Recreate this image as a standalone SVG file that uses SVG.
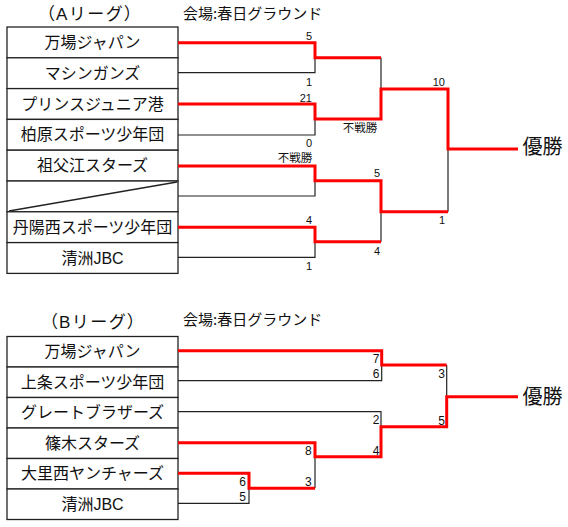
<svg xmlns="http://www.w3.org/2000/svg" width="568" height="527" viewBox="0 0 568 527">
<style>
.cell{fill:#fff;stroke:#222;stroke-width:1.3}
.tn{font-family:"Liberation Sans","Noto Sans CJK JP",sans-serif;font-size:16px;fill:#111;text-anchor:middle}
.ttl{font-family:"Noto Sans CJK JP",sans-serif;font-size:17px;fill:#111;letter-spacing:1.5px}
.ttl .p{font-feature-settings:"palt"}
.ttl .lat{font-family:"Liberation Sans",sans-serif}
.ven{font-family:"Noto Sans CJK JP",sans-serif;font-size:15px;fill:#111}
.sa{font-family:"Liberation Sans","Noto Sans CJK JP",sans-serif;font-size:11px;fill:#111;text-anchor:end}
.sb{font-family:"Liberation Sans","Noto Sans CJK JP",sans-serif;font-size:12px;fill:#111;text-anchor:end}
.fu{font-family:"Noto Sans CJK JP",sans-serif;font-size:11.5px;fill:#111;text-anchor:middle}
.win{font-family:"Noto Sans CJK JP",sans-serif;font-size:20px;fill:#111}
.bk{fill:none;stroke:#222;stroke-width:1.2}
.rd{fill:none;stroke:#ff0000;stroke-width:3;stroke-linejoin:miter}
</style>
<rect width="568" height="527" fill="#fff"/>

<!-- A league header -->
<g id="titleA">
<text class="ttl" x="46" y="20"><tspan class="p">（</tspan><tspan class="lat">A</tspan>リーグ<tspan class="p">）</tspan></text>
<text class="ven" x="183" y="19">会場:春日グラウンド</text>
</g>

<!-- A league teams -->
<g id="A1"><rect class="cell" x="7" y="27" width="171" height="30.8"/><text class="tn" x="92.5" y="48">万場ジャパン</text></g>
<g id="A2"><rect class="cell" x="7" y="57.8" width="171" height="30.8"/><text class="tn" x="92.5" y="78.8">マシンガンズ</text></g>
<g id="A3"><rect class="cell" x="7" y="88.6" width="171" height="30.8"/><text class="tn" x="92.5" y="109.6">プリンスジュニア港</text></g>
<g id="A4"><rect class="cell" x="7" y="119.4" width="171" height="30.8"/><text class="tn" x="92.5" y="140.4">柏原スポーツ少年団</text></g>
<g id="A5"><rect class="cell" x="7" y="150.2" width="171" height="30.8"/><text class="tn" x="92.5" y="171.2">祖父江スターズ</text></g>
<g id="A6"><rect class="cell" x="7" y="181" width="171" height="30.8"/><line x1="9" y1="211" x2="177" y2="182" stroke="#222" stroke-width="1.3"/></g>
<g id="A7"><rect class="cell" x="7" y="211.8" width="171" height="30.8"/><text class="tn" x="92.5" y="232.8">丹陽西スポーツ少年団</text></g>
<g id="A8"><rect class="cell" x="7" y="242.6" width="171" height="30.8"/><text class="tn" x="92.5" y="263.6">清洲JBC</text></g>

<!-- A league connectors -->
<g id="connectorsA">
<path class="bk" d="M178 72.7H315V57.7"/>
<path class="bk" d="M178 135H315V119"/>
<path class="bk" d="M178 196H315V180.7"/>
<path class="bk" d="M178 257.3H315V241.7"/>
<path class="bk" d="M381 57.7V89"/>
<path class="bk" d="M381 211.7V241.7"/>
<path class="bk" d="M448 149V211.7"/>
<path class="rd" d="M178 42.7H315V57.7H381"/>
<path class="rd" d="M178 104H315V119H381V89H448V149H518"/>
<path class="rd" d="M178 166H315V180.7H381V211.7H448"/>
<path class="rd" d="M178 227.3H315V241.7H381"/>
</g>

<g id="scoresA">
<text class="sa" x="312" y="40">5</text>
<text class="sa" x="312" y="85.7">1</text>
<text class="sa" x="312" y="101.7">21</text>
<text class="sa" x="312" y="147.3">0</text>
<text class="fu" x="360" y="132">不戦勝</text>
<text class="fu" x="295" y="162">不戦勝</text>
<text class="sa" x="380" y="177.3">5</text>
<text class="sa" x="312" y="224">4</text>
<text class="sa" x="312" y="270">1</text>
<text class="sa" x="380" y="255">4</text>
<text class="sa" x="445" y="86">10</text>
<text class="sa" x="445" y="224.3">1</text>
</g>
<g id="winA"><text class="win" x="522.5" y="153.5">優勝</text></g>

<!-- B league header -->
<g id="titleB">
<text class="ttl" x="49" y="327.5"><tspan class="p">（</tspan><tspan class="lat">B</tspan>リーグ<tspan class="p">）</tspan></text>
<text class="ven" x="183" y="324.5">会場:春日グラウンド</text>
</g>

<!-- B league teams -->
<g id="B1"><rect class="cell" x="7" y="336.5" width="171" height="30.5"/><text class="tn" x="92.5" y="357.3">万場ジャパン</text></g>
<g id="B2"><rect class="cell" x="7" y="367" width="171" height="30.5"/><text class="tn" x="92.5" y="387.8">上条スポーツ少年団</text></g>
<g id="B3"><rect class="cell" x="7" y="397.5" width="171" height="30.5"/><text class="tn" x="92.5" y="418.3">グレートブラザーズ</text></g>
<g id="B4"><rect class="cell" x="7" y="428" width="171" height="30.5"/><text class="tn" x="92.5" y="448.8">篠木スターズ</text></g>
<g id="B5"><rect class="cell" x="7" y="458.5" width="171" height="30.5"/><text class="tn" x="92.5" y="479.3">大里西ヤンチャーズ</text></g>
<g id="B6"><rect class="cell" x="7" y="489" width="171" height="30.5"/><text class="tn" x="92.5" y="509.8">清洲JBC</text></g>

<!-- B league connectors -->
<g id="connectorsB">
<path class="bk" d="M178 380.7H381.7V365"/>
<path class="bk" d="M178 411.7H381V426.7"/>
<path class="bk" d="M446.7 365V396.7"/>
<path class="bk" d="M315 456.7V488.3"/>
<path class="bk" d="M178 503.3H249V488.3"/>
<path class="rd" d="M178 350.7H381.7V365H446.7"/>
<path class="rd" d="M178 442.7H315V456.7H381V426.7H446.7V396.7H518"/>
<path class="rd" d="M178 473.3H249V488.3H315"/>
</g>

<g id="scoresB">
<text class="sb" x="379.5" y="363.3">7</text>
<text class="sb" x="379.5" y="377.7">6</text>
<text class="sb" x="445" y="378.3">3</text>
<text class="sb" x="379.5" y="424.3">2</text>
<text class="sb" x="445" y="425">5</text>
<text class="sb" x="311.7" y="455">8</text>
<text class="sb" x="379.5" y="455">4</text>
<text class="sb" x="246" y="486">6</text>
<text class="sb" x="311.7" y="486">3</text>
<text class="sb" x="246" y="500.7">5</text>
</g>
<g id="winB"><text class="win" x="522.5" y="404">優勝</text></g>
</svg>
